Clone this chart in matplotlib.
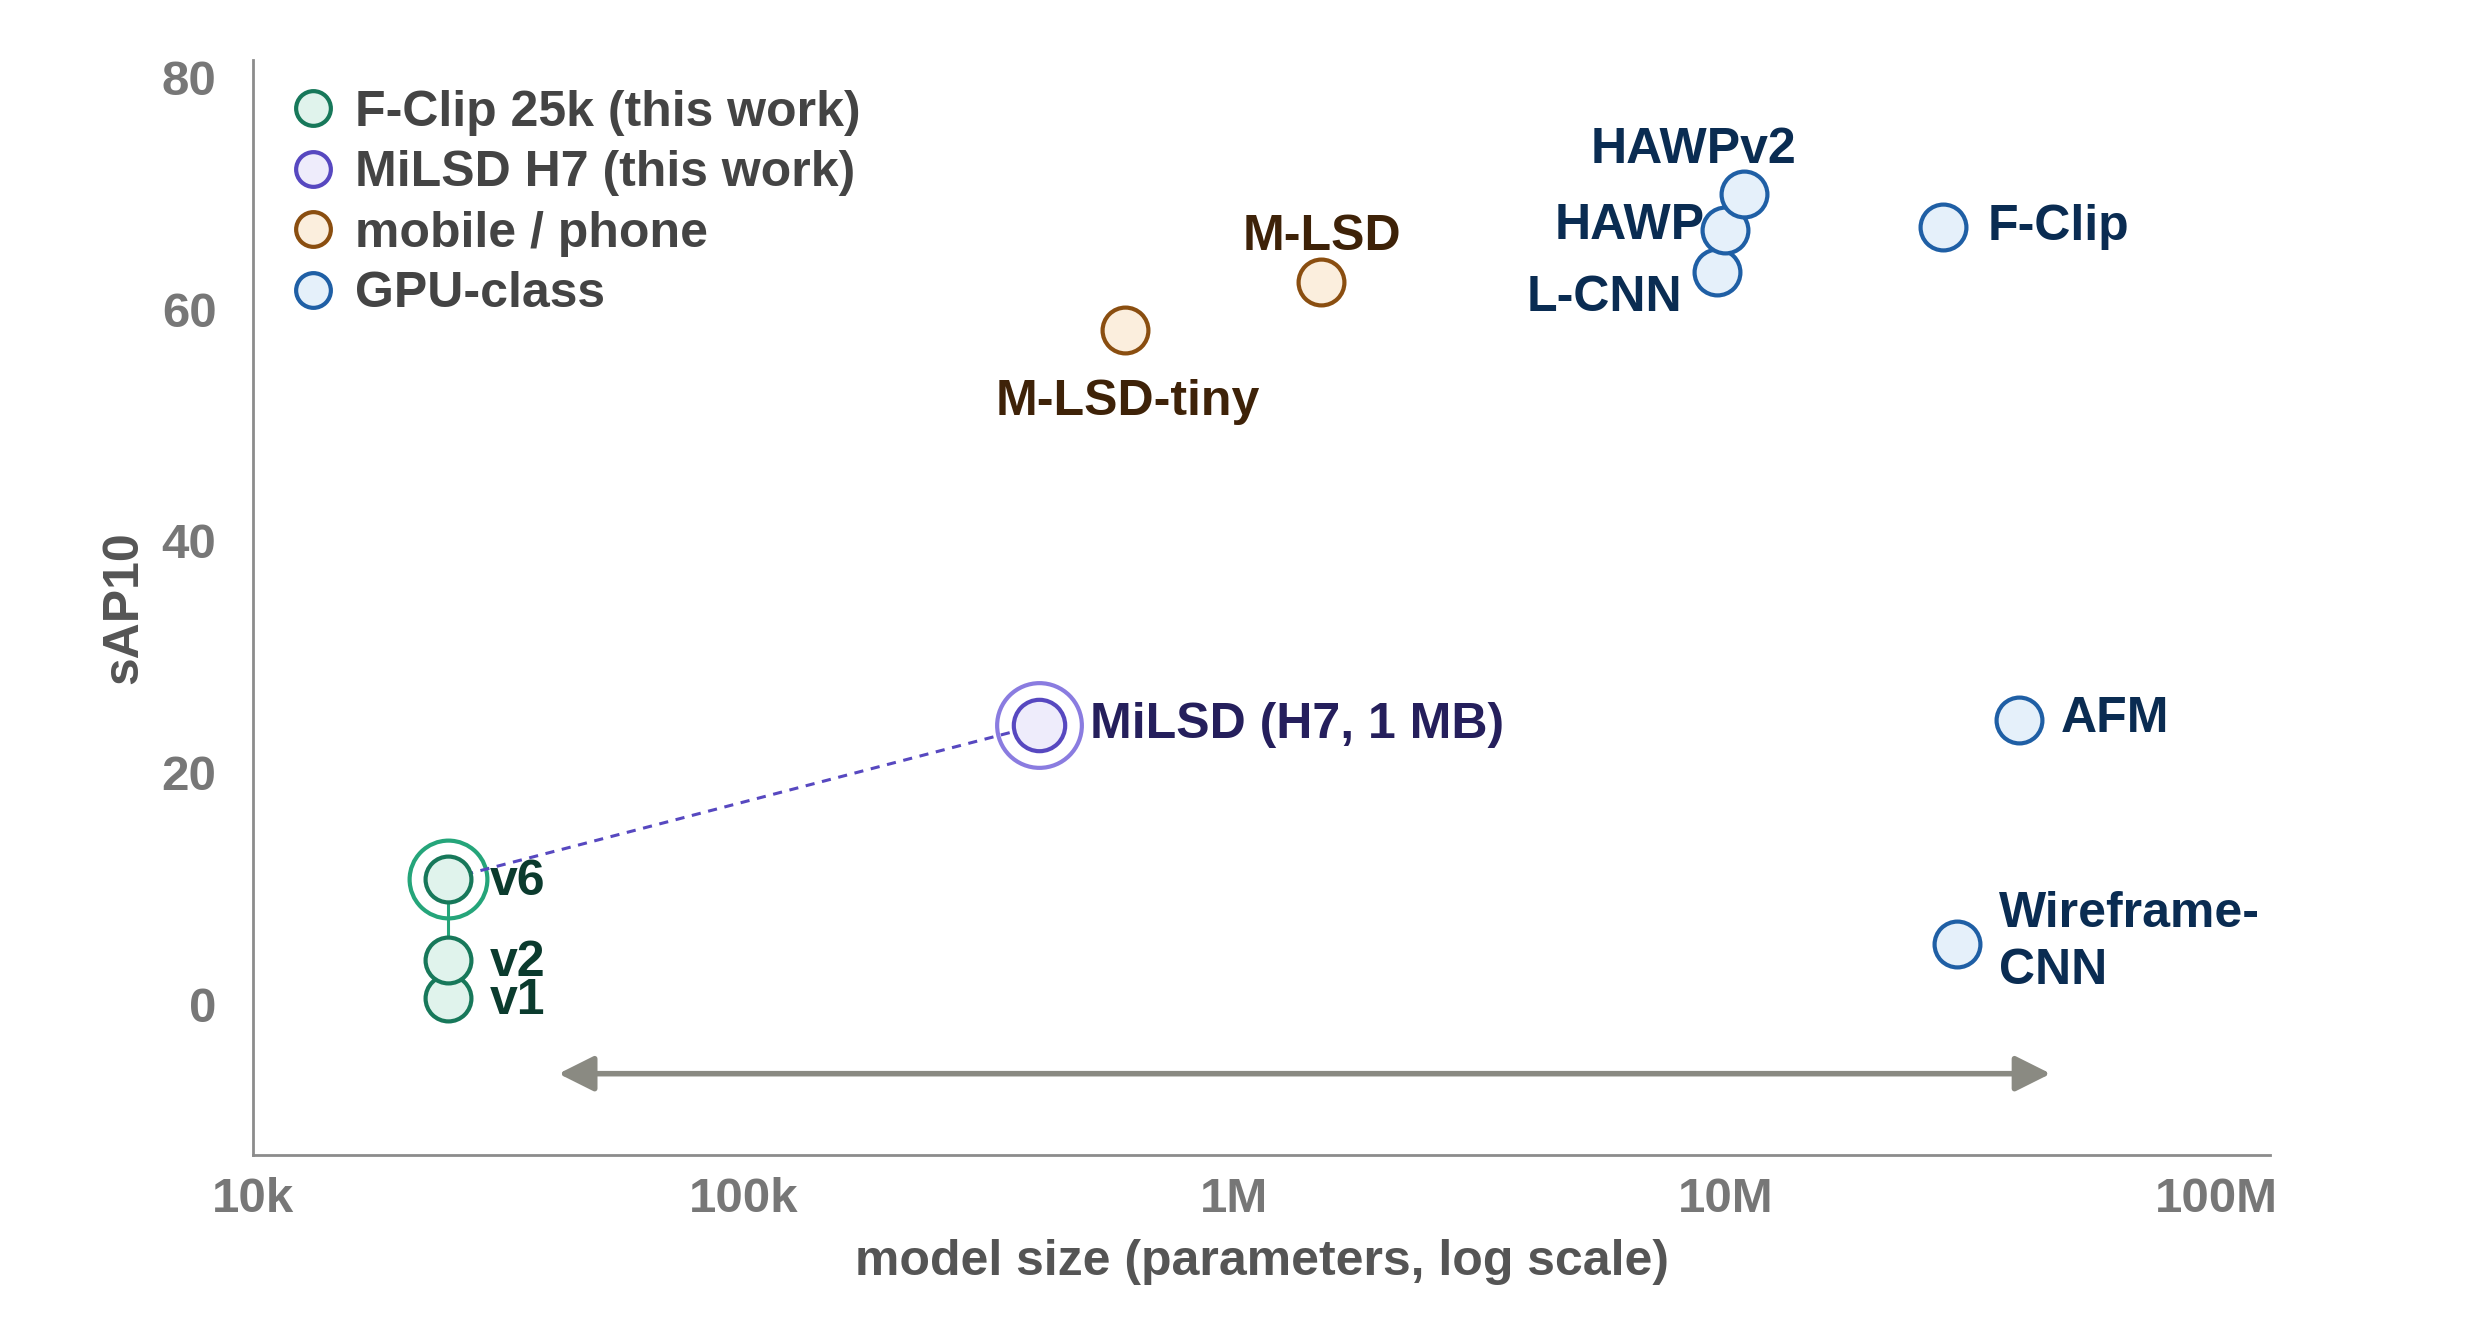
import matplotlib
matplotlib.use('Agg')
import matplotlib.pyplot as plt
from matplotlib.lines import Line2D

plt.rcParams['font.family'] = ['Liberation Sans', 'DejaVu Sans']
plt.rcParams['font.weight'] = 'bold'

# datos
fclip_names = ['v1', 'v2', 'v6']
fclip_params = [25e3, 25e3, 25e3]
fclip_sap = [0.5, 3.8, 10.8]

milsd_name = 'MiLSD (H7, 1 MB)'
milsd_params = [4.0e5]
milsd_sap = [24.1]

mobile_names = ['M-LSD-tiny', 'M-LSD']
mobile_params = [0.6e6, 1.5e6]
mobile_sap = [58.2, 62.3]

gpu_names = ['L-CNN', 'HAWP', 'HAWPv2', 'F-Clip', 'AFM', 'Wireframe-\nCNN']
gpu_params = [9.6e6, 10.0e6, 10.9e6, 27.8e6, 39.6e6, 29.7e6]
gpu_sap = [63.2, 66.8, 69.9, 67.1, 24.5, 5.2]

range_x = [4.2e4, 4.6e7]
range_y = -6

xticks = [1e4, 1e5, 1e6, 1e7, 1e8]
xtick_labels = ['10k', '100k', '1M', '10M', '100M']
yticks = [0, 20, 40, 60, 80]

# colores
green_edge, green_fill, green_halo, green_txt = '#17785a', '#e0f3ec', '#25a57a', '#0b3b2e'
purple_edge, purple_fill, purple_halo, purple_txt = '#5748c0', '#eeecfb', '#8a7ce0', '#251f5c'
brown_edge, brown_fill, brown_txt = '#8a4e10', '#fbeedd', '#3e2208'
blue_edge, blue_fill, blue_txt = '#1f5fa5', '#e5f0fa', '#0a2c52'

fig = plt.figure(figsize=(24.76, 13.35), dpi=100)
ax = fig.add_axes([0.102, 0.135, 0.815, 0.82])
ax.set_xscale('log')
ax.set_xlim(1e4, 1.29e8)
ax.set_ylim(-13, 81.5)

ms = 33
mew = 3
fs = 36

# lineas de conexion
ax.plot(fclip_params, fclip_sap, '-', color=green_halo, lw=2.2, zorder=1)
ax.plot([fclip_params[2], milsd_params[0]], [fclip_sap[2], milsd_sap[0]],
        '--', color=purple_edge, lw=2.2, dashes=(3, 2.5), zorder=3)

# halos
ax.plot(fclip_params[2], fclip_sap[2], 'o', ms=56, mfc='none', mec=green_halo, mew=3, zorder=2)
ax.plot(milsd_params, milsd_sap, 'o', ms=61, mfc='none', mec=purple_halo, mew=3, zorder=2)

# puntos
ax.plot(fclip_params, fclip_sap, 'o', ms=ms, mfc=green_fill, mec=green_edge, mew=mew, lw=0, zorder=4)
ax.plot(milsd_params, milsd_sap, 'o', ms=37, mfc=purple_fill, mec=purple_edge, mew=mew, lw=0, zorder=4)
ax.plot(mobile_params, mobile_sap, 'o', ms=ms, mfc=brown_fill, mec=brown_edge, mew=mew, lw=0, zorder=4)
ax.plot(gpu_params, gpu_sap, 'o', ms=ms, mfc=blue_fill, mec=blue_edge, mew=mew, lw=0, zorder=4)

# etiquetas
for n, x, y in zip(fclip_names, fclip_params, fclip_sap):
    ax.annotate(n, (x, y), xytext=(30, -2), textcoords='offset points',
                ha='left', va='center', fontsize=fs, color=green_txt, zorder=5)

ax.annotate(milsd_name, (milsd_params[0], milsd_sap[0]), xytext=(37, 0),
            textcoords='offset points', ha='left', va='center', fontsize=fs, color=purple_txt)

mobile_off = {'M-LSD-tiny': (2, -52), 'M-LSD': (1, 33)}
for n, x, y in zip(mobile_names, mobile_params, mobile_sap):
    dx, dy = mobile_off[n]
    ax.annotate(n, (x, y), xytext=(dx, dy), textcoords='offset points',
                ha='center', va='center', fontsize=fs, color=brown_txt)

gpu_off = {'L-CNN': (-25, -19, 'right'), 'HAWP': (-15, 3, 'right'),
           'HAWPv2': (-36, 32, 'center'), 'F-Clip': (32, 0, 'left'),
           'AFM': (30, 1, 'left'), 'Wireframe-\nCNN': (30, 1, 'left')}
for n, x, y in zip(gpu_names, gpu_params, gpu_sap):
    dx, dy, ha = gpu_off[n]
    ax.annotate(n, (x, y), xytext=(dx, dy), textcoords='offset points',
                ha=ha, va='center', fontsize=fs, color=blue_txt, linespacing=1.3)

# flecha de rango
ax.annotate('', xy=(range_x[1], range_y), xytext=(range_x[0], range_y),
            arrowprops=dict(arrowstyle='<|-|>', color='#8a8a82', lw=4,
                            mutation_scale=54, shrinkA=0, shrinkB=0))

# ejes
ax.set_xticks(xticks)
ax.set_xticklabels(xtick_labels)
ax.set_yticks(yticks)
ax.minorticks_off()
ax.tick_params(length=0, labelsize=35.5, labelcolor='#777777')
ax.tick_params(axis='x', pad=16)
ax.tick_params(axis='y', pad=26)
for s in ['top', 'right']:
    ax.spines[s].set_visible(False)
for s in ['left', 'bottom']:
    ax.spines[s].set_color('#8c8c8c')
    ax.spines[s].set_linewidth(2)
ax.set_xlabel('model size (parameters, log scale)', fontsize=fs, fontweight='bold',
              color='#555555', labelpad=12)
ax.set_ylabel('sAP10', fontsize=fs, fontweight='bold', color='#555555', labelpad=10)

# leyenda
handles = [
    Line2D([], [], ls='', marker='o', ms=25, mfc=green_fill, mec=green_edge, mew=3),
    Line2D([], [], ls='', marker='o', ms=25, mfc=purple_fill, mec=purple_edge, mew=3),
    Line2D([], [], ls='', marker='o', ms=25, mfc=brown_fill, mec=brown_edge, mew=3),
    Line2D([], [], ls='', marker='o', ms=25, mfc=blue_fill, mec=blue_edge, mew=3),
]
labels = ['F-Clip 25k (this work)', 'MiLSD H7 (this work)', 'mobile / phone', 'GPU-class']
leg = ax.legend(handles, labels, loc='upper left', bbox_to_anchor=(0.0, 1.005),
                frameon=False, fontsize=36, labelspacing=0.29, handletextpad=0.35,
                handlelength=1.0, borderaxespad=0.3)
for t in leg.get_texts():
    t.set_color('#444444')

plt.savefig('out.png', dpi=100)
